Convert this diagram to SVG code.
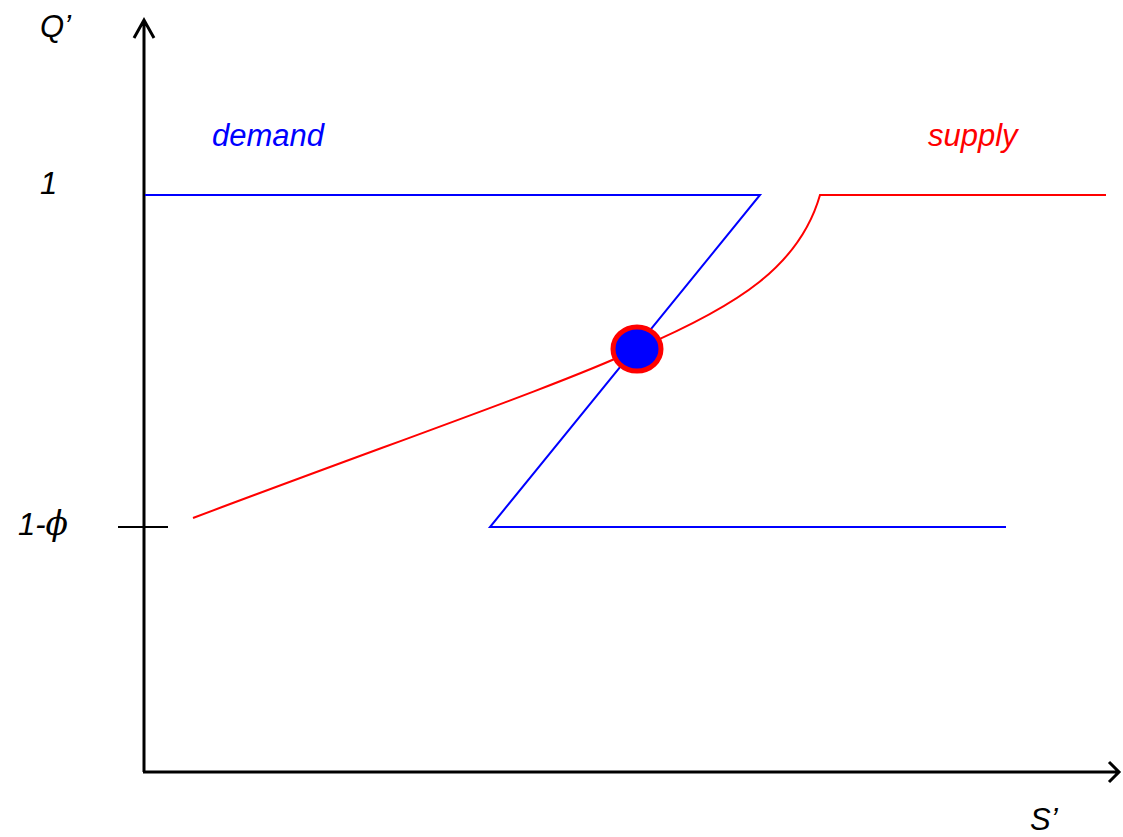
<svg xmlns="http://www.w3.org/2000/svg" width="1123" height="837" viewBox="0 0 1123 837">
<style>
.ax{stroke:#000;stroke-width:3;fill:none}
.t{font-family:"Liberation Sans",Arial,sans-serif;font-style:italic;font-size:31px}
.blue{stroke:#0000ff;stroke-width:2;fill:none}
.red{stroke:#ff0000;stroke-width:2;fill:none}
</style>
<rect width="1123" height="837" fill="#fff"/>
<g id="axes">
<path class="ax" d="M144,772 V20 M134,38 L144,20 L154,38"/>
<path class="ax" d="M143,772 H1119 M1109,762 L1119,772 L1109,782"/>
<path d="M118,527 H168" stroke="#000" stroke-width="2"/>
</g>
<g id="labels">
<text class="t" x="40" y="37">Q’</text>
<text class="t" x="40" y="194">1</text>
<text class="t" x="18" y="535">1-<tspan font-family="'DejaVu Serif',serif" font-size="33">ϕ</tspan></text>
<text class="t" x="1030" y="830">S’</text>
<text class="t" x="212" y="146" fill="#0000ff">demand</text>
<text class="t" x="928" y="146" fill="#ff0000">supply</text>
</g>
<g id="connectors">
<path id="demand" class="blue" d="M145,195 H760 L490,527 H1006"/>
<path id="supply" class="red" d="M193,518 C400,440 560,385 637,349 C740,305 800,265 820,195 H1106"/>
</g>
<g id="equilibrium">
<ellipse cx="637" cy="349" rx="24" ry="22" fill="#0000ff" stroke="#ff0000" stroke-width="5"/>
</g>
</svg>
